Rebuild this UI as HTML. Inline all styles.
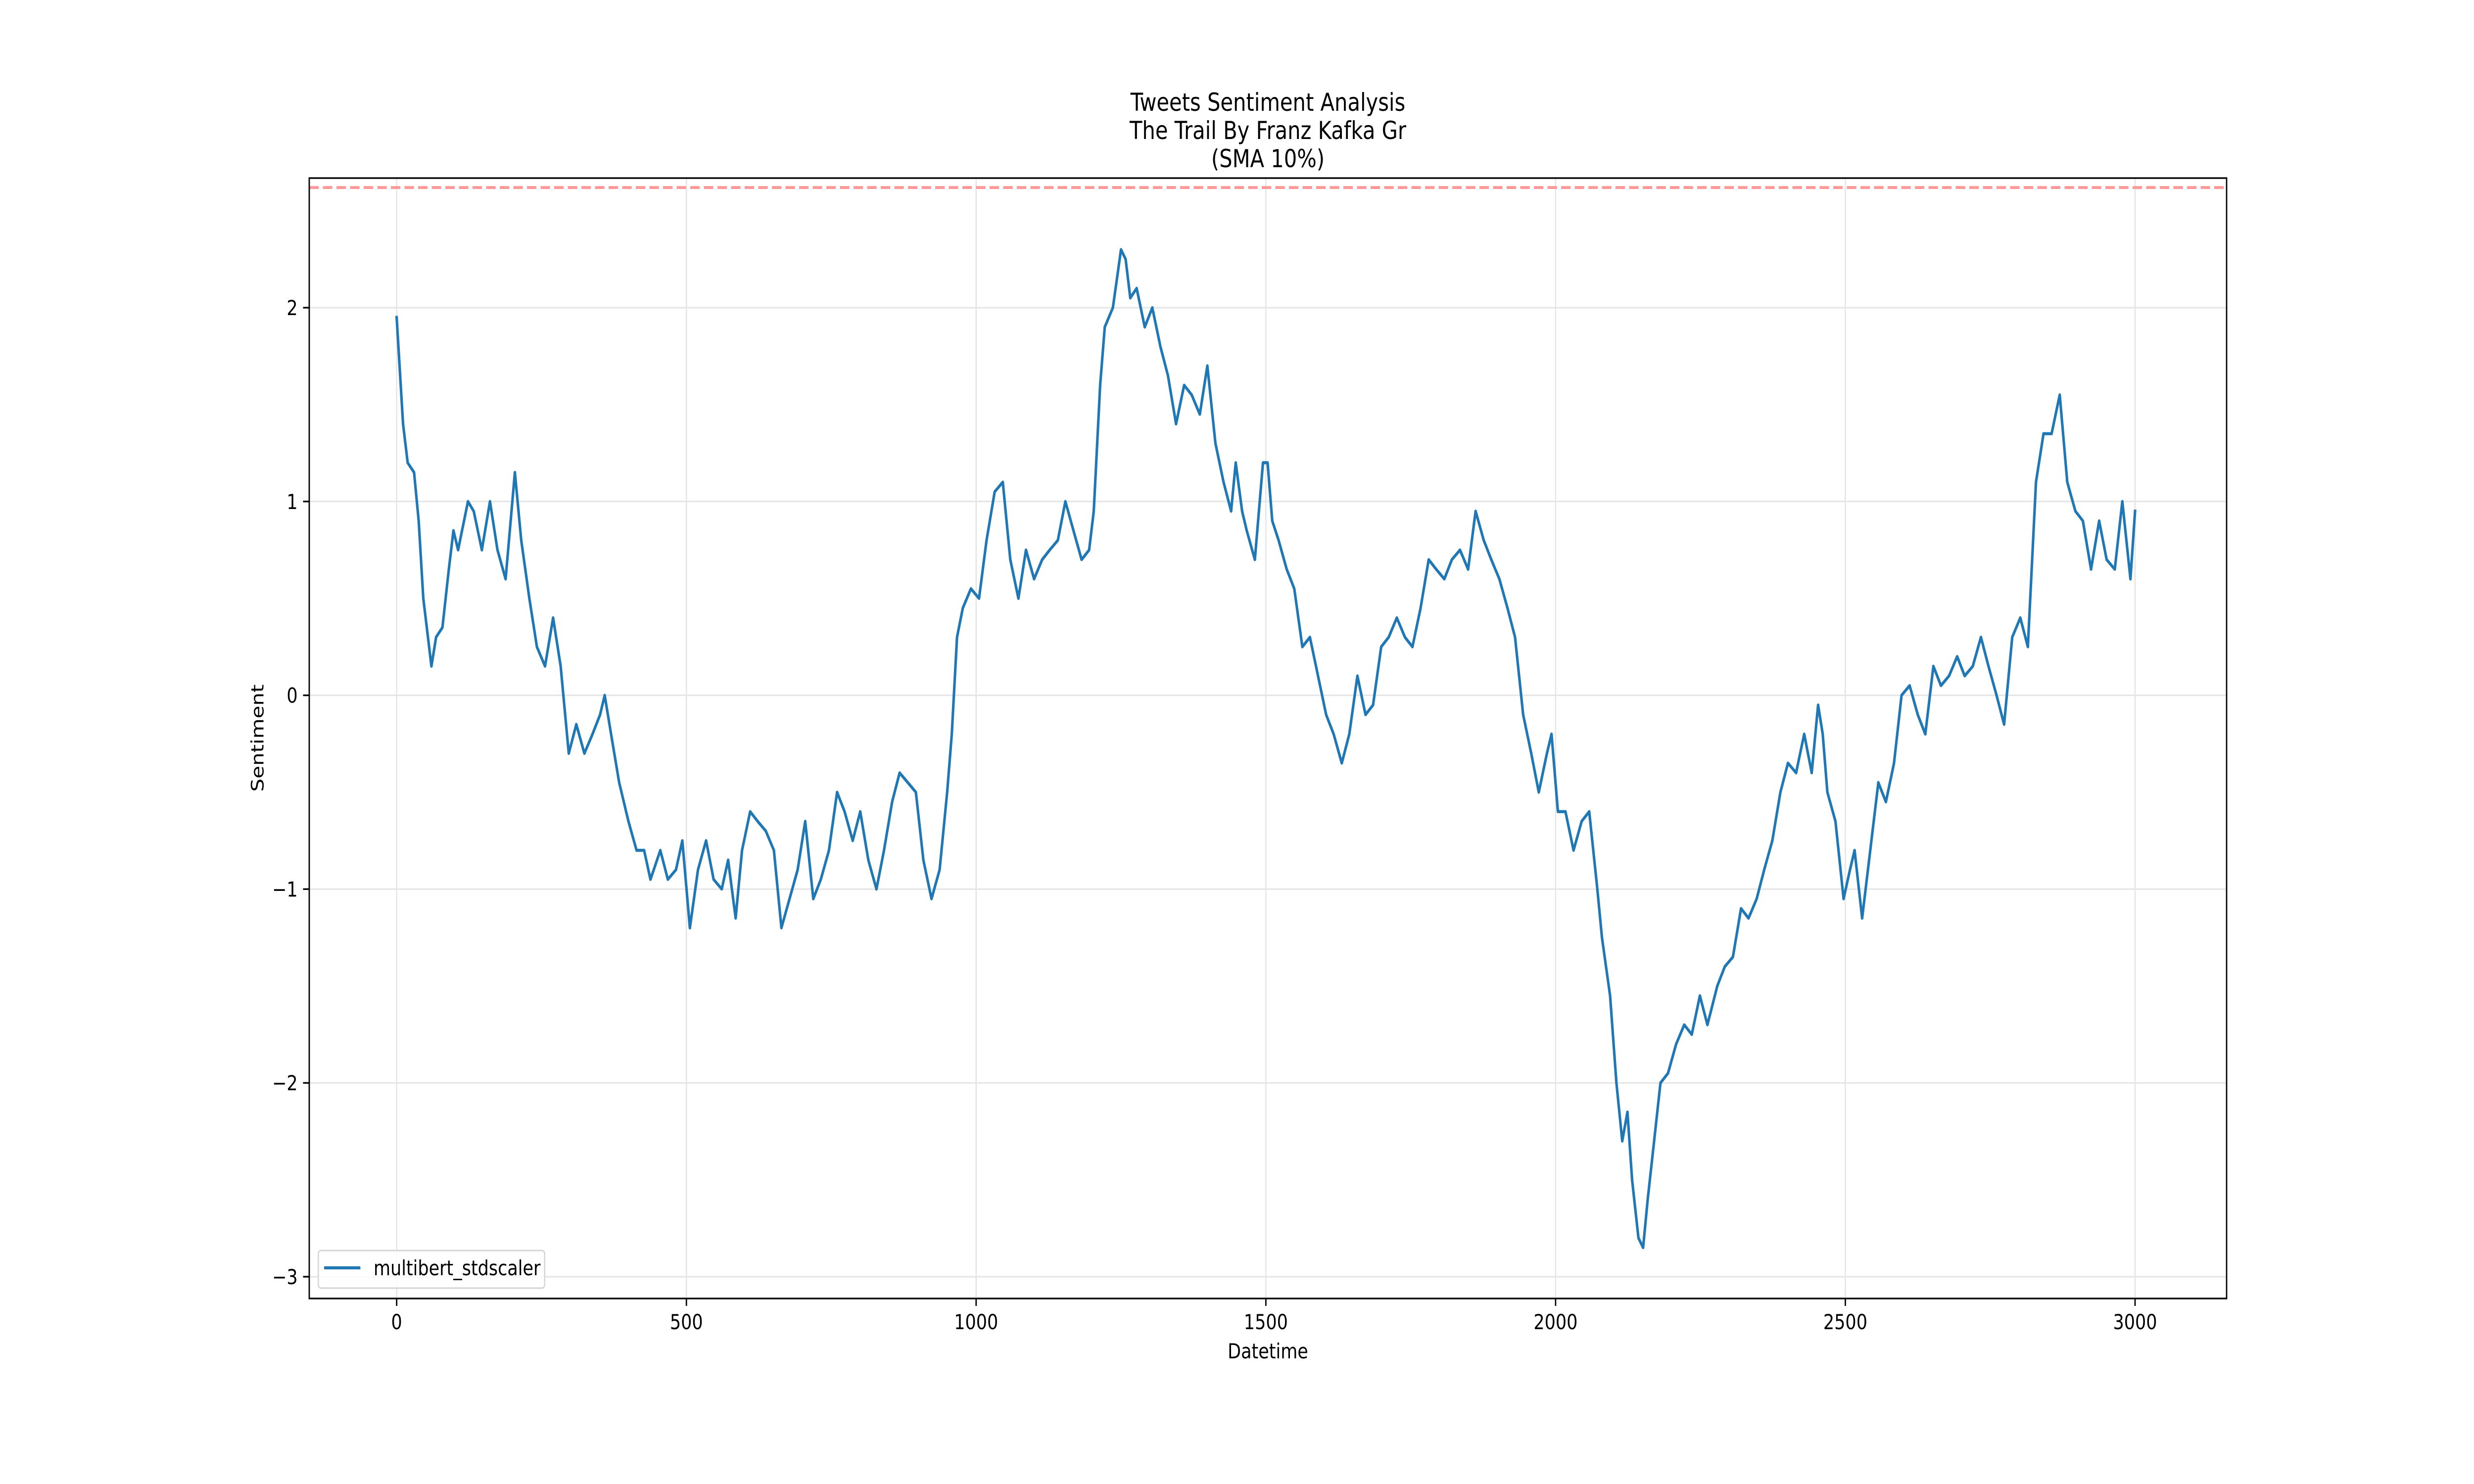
<!DOCTYPE html>
<html><head><meta charset="utf-8"><style>
html,body{margin:0;padding:0;background:#fff;width:100%;height:100%;overflow:hidden;}
svg{display:block;width:100vw;height:100vh;font-family:"DejaVu Sans","Liberation Sans",sans-serif;}
</style></head><body>
<svg id="chart" viewBox="0 0 6000 3000" preserveAspectRatio="none" xmlns="http://www.w3.org/2000/svg">
<rect width="6000" height="3000" fill="#fff"/>
<g id="grid"></g>
<g id="plot"></g>
<g id="axes"></g>
<text x="3075" y="224" font-size="50" text-anchor="middle">Tweets Sentiment Analysis</text>
<text x="3075" y="281" font-size="50" text-anchor="middle">The Trail By Franz Kafka Gr</text>
<text x="3075" y="338" font-size="50" text-anchor="middle">(SMA 10%)</text>
<text x="3075" y="2746" font-size="42" text-anchor="middle">Datetime</text>
<text x="0" y="0" font-size="42" text-anchor="middle" transform="translate(639,1492) rotate(-90)">Sentiment</text>
<g>
<rect x="772" y="2528" width="549" height="76" rx="7" fill="#fff" fill-opacity="0.8" stroke="#d5d5d5" stroke-width="3"/>
<line x1="786" y1="2563" x2="874" y2="2563" stroke="#1f77b4" stroke-width="6.25"/>
<text x="906" y="2578" font-size="42">multibert_stdscaler</text>
</g>
</svg>
<script>
const xTicks = [0, 500, 1000, 1500, 2000, 2500, 3000];
const yTicks = [-3, -2, -1, 0, 1, 2];
const threshold = 2.62;
const seriesX = [0,11,19,30,38,46,60,68,79,90,98,106,123,133,147,161,174,188,204,215,229,242,256,270,283,297,310,324,338,351,359,370,384,400,414,427,438,455,468,482,493,506,520,534,547,561,572,585,596,610,623,637,651,664,678,692,705,719,732,746,760,773,787,800,814,828,841,855,868,882,896,909,923,937,950,958,967,977,991,1005,1018,1032,1046,1059,1073,1086,1100,1114,1127,1141,1154,1168,1182,1195,1203,1214,1222,1236,1250,1258,1266,1277,1291,1304,1318,1331,1345,1359,1372,1386,1399,1413,1427,1440,1448,1459,1467,1481,1495,1503,1511,1522,1536,1549,1563,1576,1590,1604,1617,1631,1644,1658,1672,1685,1699,1712,1726,1740,1753,1767,1781,1794,1808,1821,1835,1849,1862,1876,1889,1903,1917,1930,1944,1958,1971,1985,1993,2004,2017,2031,2045,2058,2072,2080,2094,2105,2115,2124,2132,2143,2151,2159,2170,2181,2194,2208,2222,2235,2249,2262,2279,2292,2306,2320,2333,2347,2360,2374,2388,2401,2415,2429,2442,2453,2461,2469,2483,2497,2508,2516,2529,2543,2557,2570,2584,2597,2611,2625,2638,2652,2665,2679,2693,2706,2720,2734,2747,2761,2774,2788,2802,2815,2829,2842,2856,2870,2883,2897,2910,2924,2938,2951,2965,2978,2992,3000];
const seriesY = [1.95,1.4,1.2,1.15,0.9,0.5,0.15,0.3,0.35,0.65,0.85,0.75,1.0,0.95,0.75,1.0,0.75,0.6,1.15,0.8,0.5,0.25,0.15,0.4,0.15,-0.3,-0.15,-0.3,-0.2,-0.1,0.0,-0.2,-0.45,-0.65,-0.8,-0.8,-0.95,-0.8,-0.95,-0.9,-0.75,-1.2,-0.9,-0.75,-0.95,-1.0,-0.85,-1.15,-0.8,-0.6,-0.65,-0.7,-0.8,-1.2,-1.05,-0.9,-0.65,-1.05,-0.95,-0.8,-0.5,-0.6,-0.75,-0.6,-0.85,-1.0,-0.8,-0.55,-0.4,-0.45,-0.5,-0.85,-1.05,-0.9,-0.5,-0.2,0.3,0.45,0.55,0.5,0.8,1.05,1.1,0.7,0.5,0.75,0.6,0.7,0.75,0.8,1.0,0.85,0.7,0.75,0.95,1.6,1.9,2.0,2.3,2.25,2.05,2.1,1.9,2.0,1.8,1.65,1.4,1.6,1.55,1.45,1.7,1.3,1.1,0.95,1.2,0.95,0.85,0.7,1.2,1.2,0.9,0.8,0.65,0.55,0.25,0.3,0.1,-0.1,-0.2,-0.35,-0.2,0.1,-0.1,-0.05,0.25,0.3,0.4,0.3,0.25,0.45,0.7,0.65,0.6,0.7,0.75,0.65,0.95,0.8,0.7,0.6,0.45,0.3,-0.1,-0.3,-0.5,-0.3,-0.2,-0.6,-0.6,-0.8,-0.65,-0.6,-1.0,-1.25,-1.55,-2.0,-2.3,-2.15,-2.5,-2.8,-2.85,-2.6,-2.3,-2.0,-1.95,-1.8,-1.7,-1.75,-1.55,-1.7,-1.5,-1.4,-1.35,-1.1,-1.15,-1.05,-0.9,-0.75,-0.5,-0.35,-0.4,-0.2,-0.4,-0.05,-0.2,-0.5,-0.65,-1.05,-0.9,-0.8,-1.15,-0.8,-0.45,-0.55,-0.35,0.0,0.05,-0.1,-0.2,0.15,0.05,0.1,0.2,0.1,0.15,0.3,0.15,0.0,-0.15,0.3,0.4,0.25,1.1,1.35,1.35,1.55,1.1,0.95,0.9,0.65,0.9,0.7,0.65,1.0,0.6,0.95];

const NS = 'http://www.w3.org/2000/svg';
const L = 750, R = 5400, T = 360, B = 2625;
function xs(v){ return 962 + v * (3070 - 962) / 1500; }
function ys(v){ return 1405.6 - v * 391.8; }
function mk(tag, attrs, parent){ const e = document.createElementNS(NS, tag); for (const k in attrs) e.setAttribute(k, attrs[k]); parent.appendChild(e); return e; }
const grid = document.getElementById('grid'), plot = document.getElementById('plot'), axes = document.getElementById('axes');

xTicks.forEach(t => {
  const g = mk('line', {x1: xs(t), x2: xs(t), y1: T, y2: B, stroke: '#e5e5e5', 'stroke-width': 3}, grid);
  
  
  const tk = mk('line', {x1: xs(t), x2: xs(t), y1: B, y2: B + 15, stroke: '#000', 'stroke-width': 3.3}, axes);
  
  
  const lb = mk('text', {x: xs(t), y: 2687, 'font-size': 42, 'text-anchor': 'middle'}, axes);
  lb.textContent = String(t);
  
  
});
yTicks.forEach(t => {
  const g = mk('line', {x1: L, x2: R, y1: ys(t), y2: ys(t), stroke: '#e5e5e5', 'stroke-width': 3}, grid);
  
  
  const tk = mk('line', {x1: L - 15, x2: L, y1: ys(t), y2: ys(t), stroke: '#000', 'stroke-width': 3.3}, axes);
  
  
  const lb = mk('text', {x: L - 28, y: ys(t) + 15, 'font-size': 42, 'text-anchor': 'end'}, axes);
  lb.textContent = t < 0 ? '\u2212' + Math.abs(t) : String(t);
  
  
});

const th = mk('line', {x1: L, x2: R, y1: ys(threshold), y2: ys(threshold), stroke: '#ff9999', 'stroke-width': 6, 'stroke-dasharray': '23 10'}, plot);



let d = '';
seriesX.forEach((x, i) => { d += (i ? 'L' : 'M') + xs(x).toFixed(1) + ' ' + ys(seriesY[i]).toFixed(1); });
const line = mk('path', {d: d, fill: 'none', stroke: '#1f77b4', 'stroke-width': 6.25, 'stroke-linejoin': 'round', 'stroke-linecap': 'square'}, plot);



const frame = mk('rect', {x: L, y: T, width: R - L, height: B - T, fill: 'none', stroke: '#000', 'stroke-width': 3.3}, axes);


</script>
</body></html>
